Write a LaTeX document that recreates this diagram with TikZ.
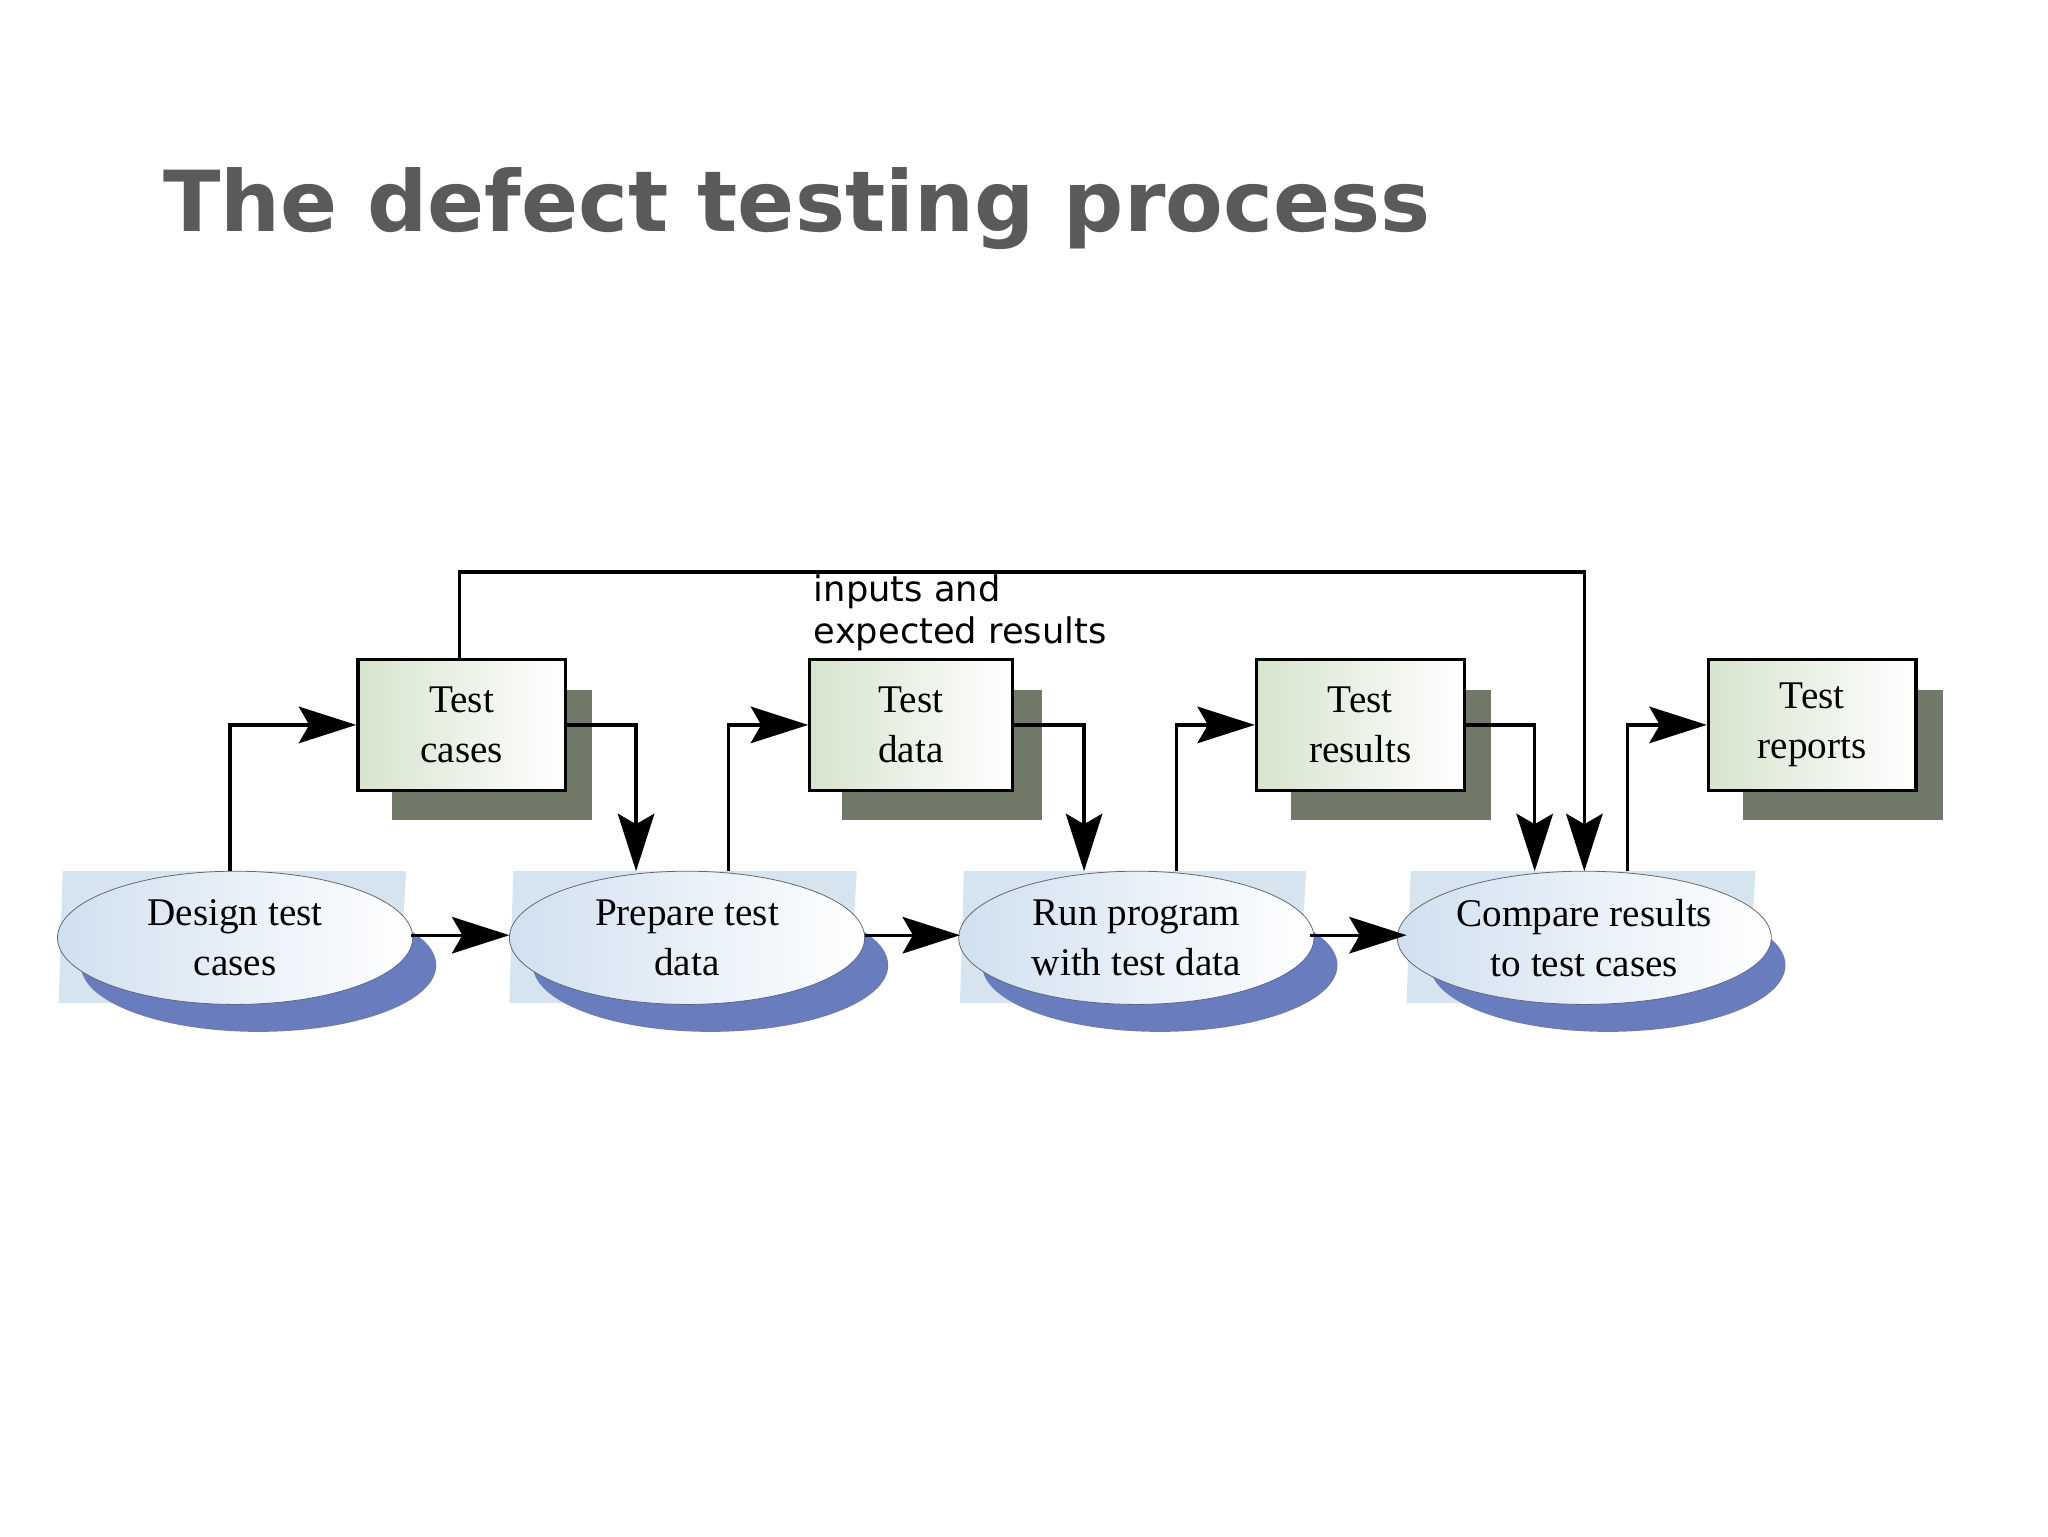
\documentclass[tikz,border=0pt]{standalone}
\usepackage{fontspec}
\setmainfont{Liberation Serif}
\newfontfamily\titlefont{DejaVu Sans}
\newfontfamily\labfont{DejaVu Sans}
\usetikzlibrary{shapes.geometric,arrows.meta}
\definecolor{titlegray}{RGB}{90,90,90}
\definecolor{boxshadow}{RGB}{112,120,104}
\definecolor{ellshadow}{RGB}{104,124,190}
\definecolor{wing}{RGB}{214,228,240}
\definecolor{boxfill}{RGB}{214,228,205}
\definecolor{ellfill}{RGB}{208,224,240}
\tikzset{
  doc/.style={draw=black,line width=2.5pt,minimum width=159pt,minimum height=100pt,
    left color=boxfill,right color=white,align=center,font=\fontsize{30}{38}\selectfont},
  docsh/.style={fill=boxshadow,minimum width=153pt,minimum height=100pt,inner sep=0pt},
  proc/.style={ellipse,draw=black!60,line width=0.6pt,minimum width=272pt,minimum height=102pt,
    left color=ellfill,right color=white,align=center,font=\fontsize{30}{38}\selectfont},
  procsh/.style={ellipse,fill=ellshadow,minimum width=272pt,minimum height=102pt},
  flow/.style={line width=2.5pt,-{Stealth[length=44pt,width=28pt,inset=8pt]}},
}
\begin{document}
\begin{tikzpicture}[x=1pt,y=-1pt]
\useasboundingbox (0,0) rectangle (1568,1176);
\fill[white] (0,0) rectangle (1568,1176);
\node[anchor=west,text=titlegray,inner sep=0pt] (title) at (125,160)
  {\resizebox{970pt}{!}{\titlefont\bfseries The defect testing process}};
% box shadows
\foreach \x in {353,697,1041,1387}{\node[docsh] at (\x+24,578) {};}
\node[doc] (tc) at (353.5,555) {Test\\cases};
\node[doc,minimum width=155pt] (td) at (697.5,555) {Test\\data};
\node[doc] (tr) at (1041.5,555) {Test\\results};
\node[doc] (rp) at (1387.5,555) {Test\\reports};
% wings
\fill[wing] (48,667) -- (311,667) -- (305,768) -- (45,768) -- cycle;
\fill[wing] (393,667) -- (656,667) -- (650,768) -- (390,768) -- cycle;
\fill[wing] (738,667) -- (1000,667) -- (994,768) -- (735,768) -- cycle;
\fill[wing] (1080,667) -- (1344,667) -- (1338,768) -- (1077,768) -- cycle;
\foreach \x in {180,526,870,1213}{\node[procsh] at (\x+18,739) {};}
\node[proc] (d) at (180,718) {Design test\\cases};
\node[proc] (p) at (526,718) {Prepare test\\data};
\node[proc] (r) at (870,718) {Run program\\with test data};
\node[proc] (c) at (1213,718) {Compare results\\to test cases};
% connectors
\draw[flow] (176,667) |- (tc.west);
\draw[flow] (tc.east) -| (487,667);
\draw[flow] (558,667) |- (td.west);
\draw[flow] (td.east) -| (830,667);
\draw[flow] (901,667) |- (tr.west);
\draw[flow] (tr.east) -| (1175,667);
\draw[flow] (1246,667) |- (rp.west);
\draw[flow] (352,505) -- (352,438) -| (1213,667);
\draw[flow] (315,716) -- (390,716);
\draw[flow] (662,716) -- (735,716);
\draw[flow] (1003,716) -- (1077,716);
\node[anchor=north west,align=left,inner sep=0pt,font=\labfont\fontsize{27}{32}\selectfont] (lab) at (623,440) {inputs and\\expected results};
\end{tikzpicture}
\end{document}
